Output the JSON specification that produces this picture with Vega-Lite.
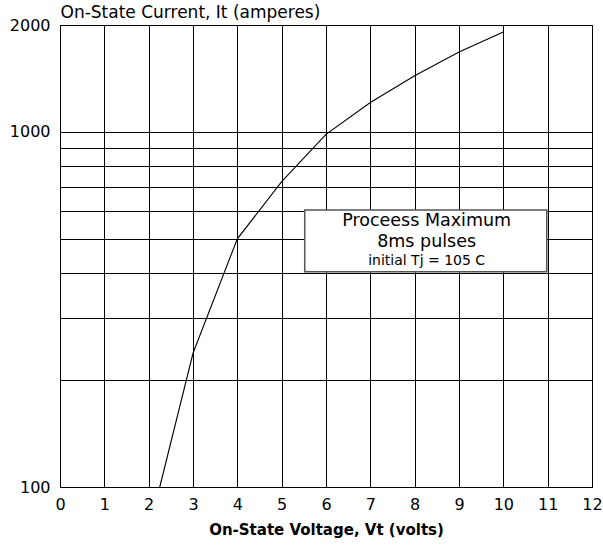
{
  "$schema": "https://vega.github.io/schema/vega-lite/v6.json",
  "autosize": "none",
  "width": 532,
  "height": 462,
  "padding": {"left": 60, "top": 25, "right": 11, "bottom": 59},
  "background": "white",
  "config": {
    "font": "DejaVu Sans",
    "view": {"stroke": "#000", "strokeWidth": 1},
    "axis": {"labelFont": "DejaVu Sans", "titleFont": "DejaVu Sans", "labelColor": "#000", "titleColor": "#000", "domainColor": "#000", "gridColor": "#000", "gridOpacity": 1, "gridWidth": 1, "ticks": false, "domainWidth": 1}
  },
  "layer": [
    {
      "data": {"values": [
        {"v": 2.25, "i": 100}, {"v": 3.0, "i": 238}, {"v": 4.0, "i": 500}, {"v": 5.0, "i": 724},
        {"v": 6.0, "i": 984}, {"v": 7.0, "i": 1210}, {"v": 8.0, "i": 1440}, {"v": 9.0, "i": 1678},
        {"v": 10.0, "i": 1912}
      ]},
      "mark": {"type": "line", "color": "#000", "strokeWidth": 1.1},
      "encoding": {
        "x": {"field": "v", "type": "quantitative",
          "scale": {"domain": [0, 12], "nice": false, "zero": false},
          "axis": {"values": [0,1,2,3,4,5,6,7,8,9,10,11,12], "grid": true, "labelFontSize": 16, "labelPadding": 9, "labelFlush": false,
                   "title": "On-State Voltage, Vt (volts)", "titleFontSize": 15, "titleFontWeight": "bold", "titlePadding": 10}},
        "y": {"field": "i", "type": "quantitative",
          "scale": {"type": "log", "domain": [100, 2000], "nice": false},
          "axis": {"values": [100,200,300,400,500,600,700,800,900,1000,2000], "grid": true, "labelFontSize": 16, "labelPadding": 10,
                   "labelExpr": "datum.value == 100 || datum.value == 1000 || datum.value == 2000 ? datum.value : ''",
                   "labelFlush": false,
                   "title": "On-State Current, It (amperes)", "titleFontSize": 17, "titleFontWeight": "normal", "titleAngle": 0,
                   "titleAlign": "left", "titleBaseline": "middle", "titleX": 0, "titleY": -13}}
      }
    },
    {
      "data": {"values": [{"x1": 5.52, "x2": 10.98, "y1": 404, "y2": 603}]},
      "mark": {"type": "rect", "fill": "white", "stroke": "#555", "strokeWidth": 1.5},
      "encoding": {
        "x": {"field": "x1", "type": "quantitative"},
        "x2": {"field": "x2"},
        "y": {"field": "y1", "type": "quantitative"},
        "y2": {"field": "y2"}
      }
    },
    {
      "data": {"values": [{"x": 8.27, "y": 560, "t": "Proceess Maximum"}, {"x": 8.27, "y": 489, "t": "8ms pulses"}]},
      "mark": {"type": "text", "fontSize": 17.5, "color": "#000", "align": "center", "baseline": "middle"},
      "encoding": {
        "x": {"field": "x", "type": "quantitative"},
        "y": {"field": "y", "type": "quantitative"},
        "text": {"field": "t"}
      }
    },
    {
      "data": {"values": [{"x": 8.27, "y": 434, "t": "initial Tj = 105 C"}]},
      "mark": {"type": "text", "fontSize": 14, "color": "#000", "align": "center", "baseline": "middle"},
      "encoding": {
        "x": {"field": "x", "type": "quantitative"},
        "y": {"field": "y", "type": "quantitative"},
        "text": {"field": "t"}
      }
    }
  ]
}
